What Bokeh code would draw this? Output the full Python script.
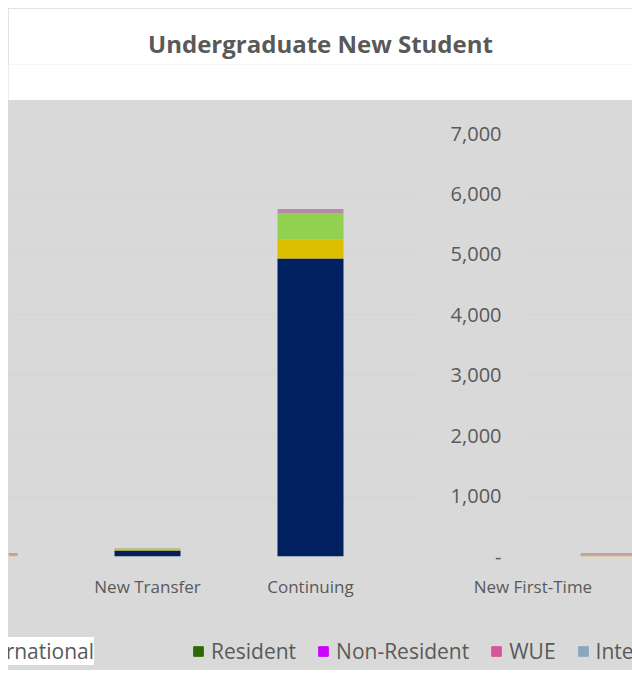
from bokeh.plotting import figure
from bokeh.layouts import column, row
from bokeh.models import (ColumnDataSource, FixedTicker, NumeralTickFormatter,
                          Legend, LegendItem, Range1d, CDSView, IndexFilter)
from bokeh.embed import file_html
from bokeh.resources import INLINE

# ---------------- data ----------------
title_text = "Undergraduate New Student"
categories = ["New First-Time", "New Transfer", "Continuing", "New First-Time"]
positions = [0, 1, 2, 3]
resident = [0, 100, 4930, 0]
non_resident = [30, 12, 310, 30]
wue = [0, 20, 445, 0]
international = [25, 3, 65, 25]
series = ["Resident", "Non-Resident", "WUE", "International"]
y_ticks = [0, 1000, 2000, 3000, 4000, 5000, 6000, 7000]

bar_colors = ["#002060", "#dcbf00", "#92d050", "#b98aa8"]
legend2_colors = ["#2b6a00", "#cc00ff", "#d6559b", "#8ca7bd"]

GRAY = "#d9d9d9"
TXT = "#595959"
FONT = "Open Sans"

src = ColumnDataSource(data=dict(x=positions, Resident=resident,
                                 **{"Non-Resident": non_resident},
                                 WUE=wue, International=international))


def style_common(p):
    p.background_fill_color = GRAY
    p.border_fill_color = GRAY
    p.outline_line_color = None
    p.xgrid.grid_line_color = None
    p.ygrid.grid_line_color = "#d5d5d5"
    p.ygrid.ticker = FixedTicker(ticks=y_ticks)
    p.xaxis.ticker = FixedTicker(ticks=positions)
    p.xaxis.major_label_overrides = {i: c for i, c in zip(positions, categories)}
    p.xaxis.axis_line_color = None
    p.xaxis.major_tick_line_color = None
    p.xaxis.minor_tick_line_color = None
    p.xaxis.major_label_text_font = FONT
    p.xaxis.major_label_text_font_size = "17px"
    p.xaxis.major_label_text_color = TXT
    p.xaxis.major_label_standoff = 12


# ---------------- title ----------------
tp = figure(width=624, height=92, output_backend="svg", toolbar_location=None,
            x_axis_location=None, y_axis_location=None, min_border=0,
            min_border_top=56, x_range=Range1d(0, 1), y_range=Range1d(0, 1))
tp.title.text = title_text
tp.title.align = "center"
tp.title.text_font = FONT
tp.title.text_font_size = "24px"
tp.title.text_font_style = "bold"
tp.title.text_color = TXT
tp.background_fill_color = "white"
tp.border_fill_color = "white"
tp.outline_line_color = None
tp.grid.grid_line_color = None

# ---------------- left panel ----------------
left = figure(width=412, height=500, output_backend="svg", toolbar_location=None,
              x_range=Range1d(0.147, 2.675), y_range=Range1d(0, 7000),
              y_axis_location=None, min_border_left=0, min_border_right=0,
              min_border_top=33, min_border_bottom=40)
left.vbar_stack(series, x="x", width=0.405, source=src, color=bar_colors,
                line_color=None, view=CDSView(filter=IndexFilter([0, 1, 2])))
style_common(left)

# ---------------- right panel ----------------
right = figure(width=212, height=500, output_backend="svg", toolbar_location=None,
               x_range=Range1d(2.46, 3.116), y_range=Range1d(0, 7000),
               min_border_left=105, min_border_right=0,
               min_border_top=33, min_border_bottom=40)
right.vbar_stack(series, x="x", width=0.405, source=src, color=bar_colors,
                 line_color=None, view=CDSView(filter=IndexFilter([3])))
style_common(right)
right.yaxis.ticker = FixedTicker(ticks=y_ticks)
right.yaxis.formatter = NumeralTickFormatter(format="0,0")
right.yaxis.major_label_overrides = {0: "-"}
right.yaxis.axis_line_color = None
right.yaxis.major_tick_line_color = None
right.yaxis.minor_tick_line_color = None
right.yaxis.major_label_text_font = FONT
right.yaxis.major_label_text_font_size = "20px"
right.yaxis.major_label_text_color = TXT
right.yaxis.major_label_standoff = 18

# ---------------- legend strip ----------------
# hidden stacks drawn from the same data only supply the legend swatches
lg = figure(width=624, height=70, output_backend="svg", toolbar_location=None,
            x_axis_location=None, y_axis_location=None, min_border=0,
            x_range=Range1d(0, 1), y_range=Range1d(0, 1))
lg.background_fill_color = GRAY
lg.border_fill_color = GRAY
lg.outline_line_color = None
lg.grid.grid_line_color = None


def make_legend(colors, loc, bg, pad):
    rs = lg.vbar_stack(series, x="x", width=0.4, source=src, color=colors)
    for r in rs:
        r.visible = False
    items = [LegendItem(label=name, renderers=[r]) for name, r in zip(series, rs)]
    leg = Legend(items=items, location=loc, orientation="horizontal",
                 glyph_width=12, glyph_height=12, label_standoff=7, spacing=21,
                 padding=pad, label_text_font=FONT, label_text_font_size="21px",
                 label_text_color=TXT, border_line_color=None,
                 background_fill_color=bg, background_fill_alpha=1.0,
                 inactive_fill_alpha=0.0)
    lg.add_layout(leg)


make_legend(bar_colors, (-444, 5), "white", 20)
make_legend(legend2_colors, (184, 5), GRAY, 10)

body = row(left, right, styles={"background-color": GRAY})
layout = column(tp, body, lg, margin=(8, 0, 0, 8),
                styles={"background-color": GRAY})
open("out.html", "w").write(file_html(layout, INLINE))
